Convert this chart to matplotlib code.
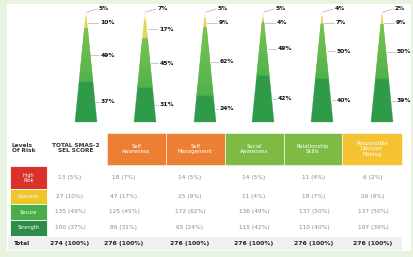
import matplotlib
matplotlib.use("Agg")
import matplotlib.pyplot as plt
import numpy as np
from matplotlib.patches import Polygon, Rectangle
from matplotlib.colors import to_rgb

# ---------------- data ----------------
categories = ["TOTAL SMAS-2\nSEL SCORE", "Self\nAwareness", "Self\nManagement",
              "Social\nAwareness", "Relationship\nSkills", "Responsible\nDecision\nMaking"]
levels = ["High\nRisk", "Concern", "Secure", "Strength"]
high_risk = [13, 18, 14, 14, 11, 6]
concern = [27, 47, 25, 11, 18, 26]
secure = [135, 125, 172, 136, 137, 137]
strength = [100, 86, 65, 115, 110, 107]
high_pct = [5, 7, 5, 5, 4, 2]
concern_pct = [10, 17, 9, 4, 7, 9]
secure_pct = [49, 45, 62, 49, 50, 50]
strength_pct = [37, 31, 24, 42, 40, 39]
totals = [274, 276, 276, 276, 276, 276]

# ---------------- figure ----------------
W, H = 414, 257
fig = plt.figure(figsize=(W / 100, H / 100), dpi=100)
fig.patch.set_facecolor("#e8f3e2")
ax = fig.add_axes([0, 0, 1, 1])
ax.set_xlim(0, W)
ax.set_ylim(H, 0)
ax.axis("off")
ax.add_patch(Rectangle((7, 4), 404, 247, facecolor="white", edgecolor="none"))

# ---------------- cones ----------------
cone_x = [86, 145, 205, 263, 322, 382]
apex, base, half = 12, 122, 11
tri_cols = ["#f1eec4", "#e6d457", "#58b548", "#2f9a48"]
sec_top, sec_bot = np.array(to_rgb("#7cc252")), np.array(to_rgb("#4fb24a"))
txt_kw = dict(fontsize=4.3, fontweight="bold", color="#111111", va="center", ha="left")

def hw(y):
    return half * (y - apex) / (base - apex)

def band(cx, y0, y1, c, lw=0.2):
    poly = [(cx - hw(y0), y0), (cx + hw(y0), y0), (cx + hw(y1), y1), (cx - hw(y1), y1)]
    ax.add_patch(Polygon(poly, closed=True, facecolor=c, edgecolor=c, lw=lw))

for i, cx in enumerate(cone_x):
    pcts = [high_pct[i], concern_pct[i], secure_pct[i], strength_pct[i]]
    tot = sum(pcts)
    y0 = apex
    mids = []
    for k, (p, c) in enumerate(zip(pcts, tri_cols)):
        y1 = y0 + (base - apex) * p / tot
        if k == 2:
            # base fill first so no seams show between gradient bands
            band(cx, y0, y1, tuple((sec_top + sec_bot) / 2))
            n = 24
            edges = np.linspace(y0, y1, n + 1)
            for m in range(n):
                t = m / (n - 1)
                band(cx, edges[m], edges[m + 1], tuple(sec_top * (1 - t) + sec_bot * t), lw=0)
        else:
            band(cx, y0, y1, c)
        mids.append((y0 + y1) / 2)
        y0 = y1
    # labels
    ly = [9, max(mids[1], 23), mids[2], mids[3]]
    lx = [cx + 13, cx + 14, cx + 15, cx + 15]
    for k in range(4):
        yy = ly[k]
        if k == 0:
            x0, y_start = cx + 1, apex
        else:
            x0, y_start = cx + hw(yy) + 1, yy
        ax.plot([x0, lx[k] - 2], [y_start, yy], color="#b0b0b0", lw=0.5)
        ax.text(lx[k], yy, f"{pcts[k]}%", **txt_kw)

# ---------------- table ----------------
col_edges = [8, 48, 107, 166, 225, 284, 342, 402]
head_cols = [None, None, "#ec7f33", "#ec7f33", "#7dbb45", "#7dbb45", "#f4c232"]
head_top, head_bot = 133, 165
for j in range(2, 7):
    ax.add_patch(Rectangle((col_edges[j], head_top), col_edges[j + 1] - col_edges[j],
                           head_bot - head_top, facecolor=head_cols[j], edgecolor="white", lw=0.4))
    ax.text((col_edges[j] + col_edges[j + 1]) / 2, (head_top + head_bot) / 2, categories[j - 1],
            fontsize=3.8, color="white", ha="center", va="center", linespacing=1.1)
ax.text(12, 148, "Levels\nOf Risk", fontsize=4.2, color="#333333", fontweight="bold",
        ha="left", va="center", linespacing=1.1)
ax.text(76, 148, categories[0].upper(), fontsize=4.2, color="#333333", fontweight="bold",
        ha="center", va="center", linespacing=1.1)

row_bounds = [(166, 189), (189, 204), (204, 220), (220, 236)]
row_cols = ["#d8322b", "#efc52c", "#49ad4a", "#2e8b48"]
for r, ((t, b), c) in enumerate(zip(row_bounds, row_cols)):
    ax.add_patch(Rectangle((10, t), 37, b - t, facecolor=c, edgecolor="white", lw=0.6))
    ax.text(28.5, (t + b) / 2, levels[r], fontsize=3.6, color="white", ha="center",
            va="center", linespacing=1.0)

val_x = [70, 124, 190, 254, 314, 373]
counts = [high_risk, concern, secure, strength]
pct_rows = [high_pct, concern_pct, secure_pct, strength_pct]
for r, (t, b) in enumerate(row_bounds):
    for j in range(6):
        ax.text(val_x[j], (t + b) / 2, f"{counts[r][j]} ({pct_rows[r][j]}%)", fontsize=4.2,
                color="#8a8a8a", ha="center", va="center")

ax.add_patch(Rectangle((8, 237), 394, 13, facecolor="#f0f0f0", edgecolor="none"))
ax.text(14, 243.5, "Total", fontsize=4.2, color="#222222", fontweight="bold", ha="left", va="center")
for j in range(6):
    ax.text(val_x[j], 243.5, f"{totals[j]} (100%)", fontsize=4.4, color="#222222",
            fontweight="bold", ha="center", va="center")

fig.savefig("out.png", dpi=100, facecolor=fig.get_facecolor())
